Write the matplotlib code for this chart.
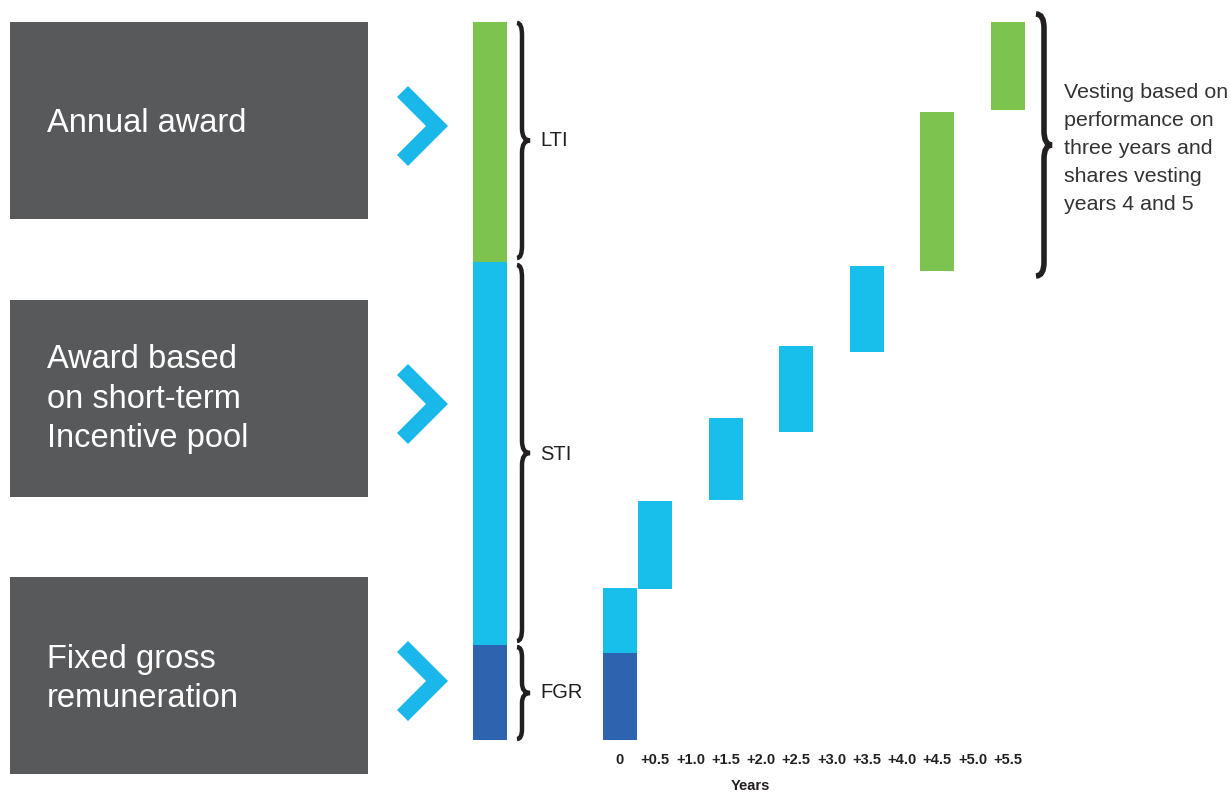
import matplotlib.pyplot as plt
from matplotlib.path import Path
from matplotlib.patches import PathPatch, Polygon, Rectangle

# ---- data (share of total remuneration, %) ----
tick_years = [0, 0.5, 1.0, 1.5, 2.0, 2.5, 3.0, 3.5, 4.0, 4.5, 5.0, 5.5]
tick_labels = ['0', '+0.5', '+1.0', '+1.5', '+2.0', '+2.5', '+3.0', '+3.5',
               '+4.0', '+4.5', '+5.0', '+5.5']

total_parts = ['FGR', 'STI', 'LTI']
total_values = [13.2, 53.3, 33.5]

step_years = [0, 0, 0.5, 1.5, 2.5, 3.5, 4.5, 5.5]
step_parts = ['FGR', 'STI', 'STI', 'STI', 'STI', 'STI', 'LTI', 'LTI']
step_bottoms = [0, 12.0, 21.0, 33.4, 42.8, 54.0, 65.3, 87.7]
step_tops = [12.0, 21.1, 33.2, 44.8, 54.8, 65.9, 87.4, 100.0]

box_labels = ['Annual award',
              'Award based\non short-term\nIncentive pool',
              'Fixed gross\nremuneration']
vesting_note = ('Vesting based on\nperformance on\nthree years and\n'
                'shares vesting\nyears 4 and 5')

colors = {'FGR': '#2e64af', 'STI': '#17bfea', 'LTI': '#7dc350'}
GREY = '#58595b'
INK = '#231f20'

W, H = 1231, 793
fig = plt.figure(figsize=(W / 100, H / 100), dpi=100)
plt.rcParams['font.family'] = ['Liberation Sans', 'DejaVu Sans']

# ---- chart axes: 70.5 px per year, year 0 at x=620 px ----
ax_l, ax_r = 440, 1060
ax = fig.add_axes([ax_l / W, (H - 739.5) / H, (ax_r - ax_l) / W, 718 / H])
ax.set_facecolor('none')
ax.set_xlim((ax_l - 620) / 70.5, (ax_r - 620) / 70.5)
ax.set_ylim(0, 100)
bar_w = 34 / 70.5

# total (stacked) bar on the left
total_x = -1.844
bottom = 0
for part, val in zip(total_parts, total_values):
    ax.bar(total_x, val, bottom=bottom, width=bar_w, color=colors[part], linewidth=0)
    bottom += val

# waterfall over the years
heights = [t - b for t, b in zip(step_tops, step_bottoms)]
ax.bar(step_years, heights, bottom=step_bottoms, width=bar_w,
       color=[colors[p] for p in step_parts], linewidth=0)

ax.set_xticks(tick_years, tick_labels)
ax.set_yticks([])
ax.tick_params(axis='x', length=0, pad=10)
for lab in ax.get_xticklabels():
    lab.set_fontweight('bold')
    lab.set_fontsize(10.5)
    lab.set_color(INK)
ax.set_xlabel('Years', fontsize=10.5, fontweight='bold', color=INK, labelpad=8)
for s in ax.spines.values():
    s.set_visible(False)

# ---- overlay in pixel coordinates for the decorations ----
deco = fig.add_axes([0, 0, 1, 1], zorder=3)
deco.set_xlim(0, W)
deco.set_ylim(H, 0)
deco.axis('off')
deco.patch.set_visible(False)

box_tops = [22, 300, 577]
box_text_y = [123, 399, 679]
box_spacing = [1.3, 1.36, 1.3]
for top, label, ty, ls in zip(box_tops, box_labels, box_text_y, box_spacing):
    deco.add_patch(Rectangle((10, top), 358, 197, color=GREY, linewidth=0))
    deco.text(47, ty, label, color='white', fontsize=23.5, ha='left',
              va='center', linespacing=ls)
    cy = top + 104
    chev = [(408, cy - 40), (448, cy), (408, cy + 40), (397, cy + 29),
            (426, cy), (397, cy - 29)]
    deco.add_patch(Polygon(chev, closed=True, color='#1ab8ea', linewidth=0))


def brace(x, y0, y1, tip, curl, c, lw):
    ym = (y0 + y1) / 2
    verts = [(x - curl, y0), (x, y0), (x, y0 + c),
             (x, ym - c), (x, ym), (x + tip, ym),
             (x, ym), (x, ym + c),
             (x, y1 - c), (x, y1), (x - curl, y1)]
    codes = [Path.MOVETO, Path.CURVE3, Path.CURVE3,
             Path.LINETO, Path.CURVE3, Path.CURVE3,
             Path.CURVE3, Path.CURVE3,
             Path.LINETO, Path.CURVE3, Path.CURVE3]
    deco.add_patch(PathPatch(Path(verts, codes), facecolor='none',
                             edgecolor=INK, linewidth=lw, capstyle='butt'))


brace(522, 23, 258, 8, 5, 12, 3.2)
brace(522, 265, 641, 8, 5, 12, 3.2)
brace(522, 647, 739, 8, 5, 10, 3.2)
brace(1044, 14, 276, 8, 8, 14, 4)

for name, y in zip(['LTI', 'STI', 'FGR'], [141, 455, 693]):
    deco.text(540, y, name, fontsize=14.5, color=INK, ha='left', va='center')

deco.text(1064, 149, vesting_note, fontsize=15.4, color='#333333', ha='left',
          va='center', linespacing=1.6)

fig.savefig('out.png', dpi=100)
